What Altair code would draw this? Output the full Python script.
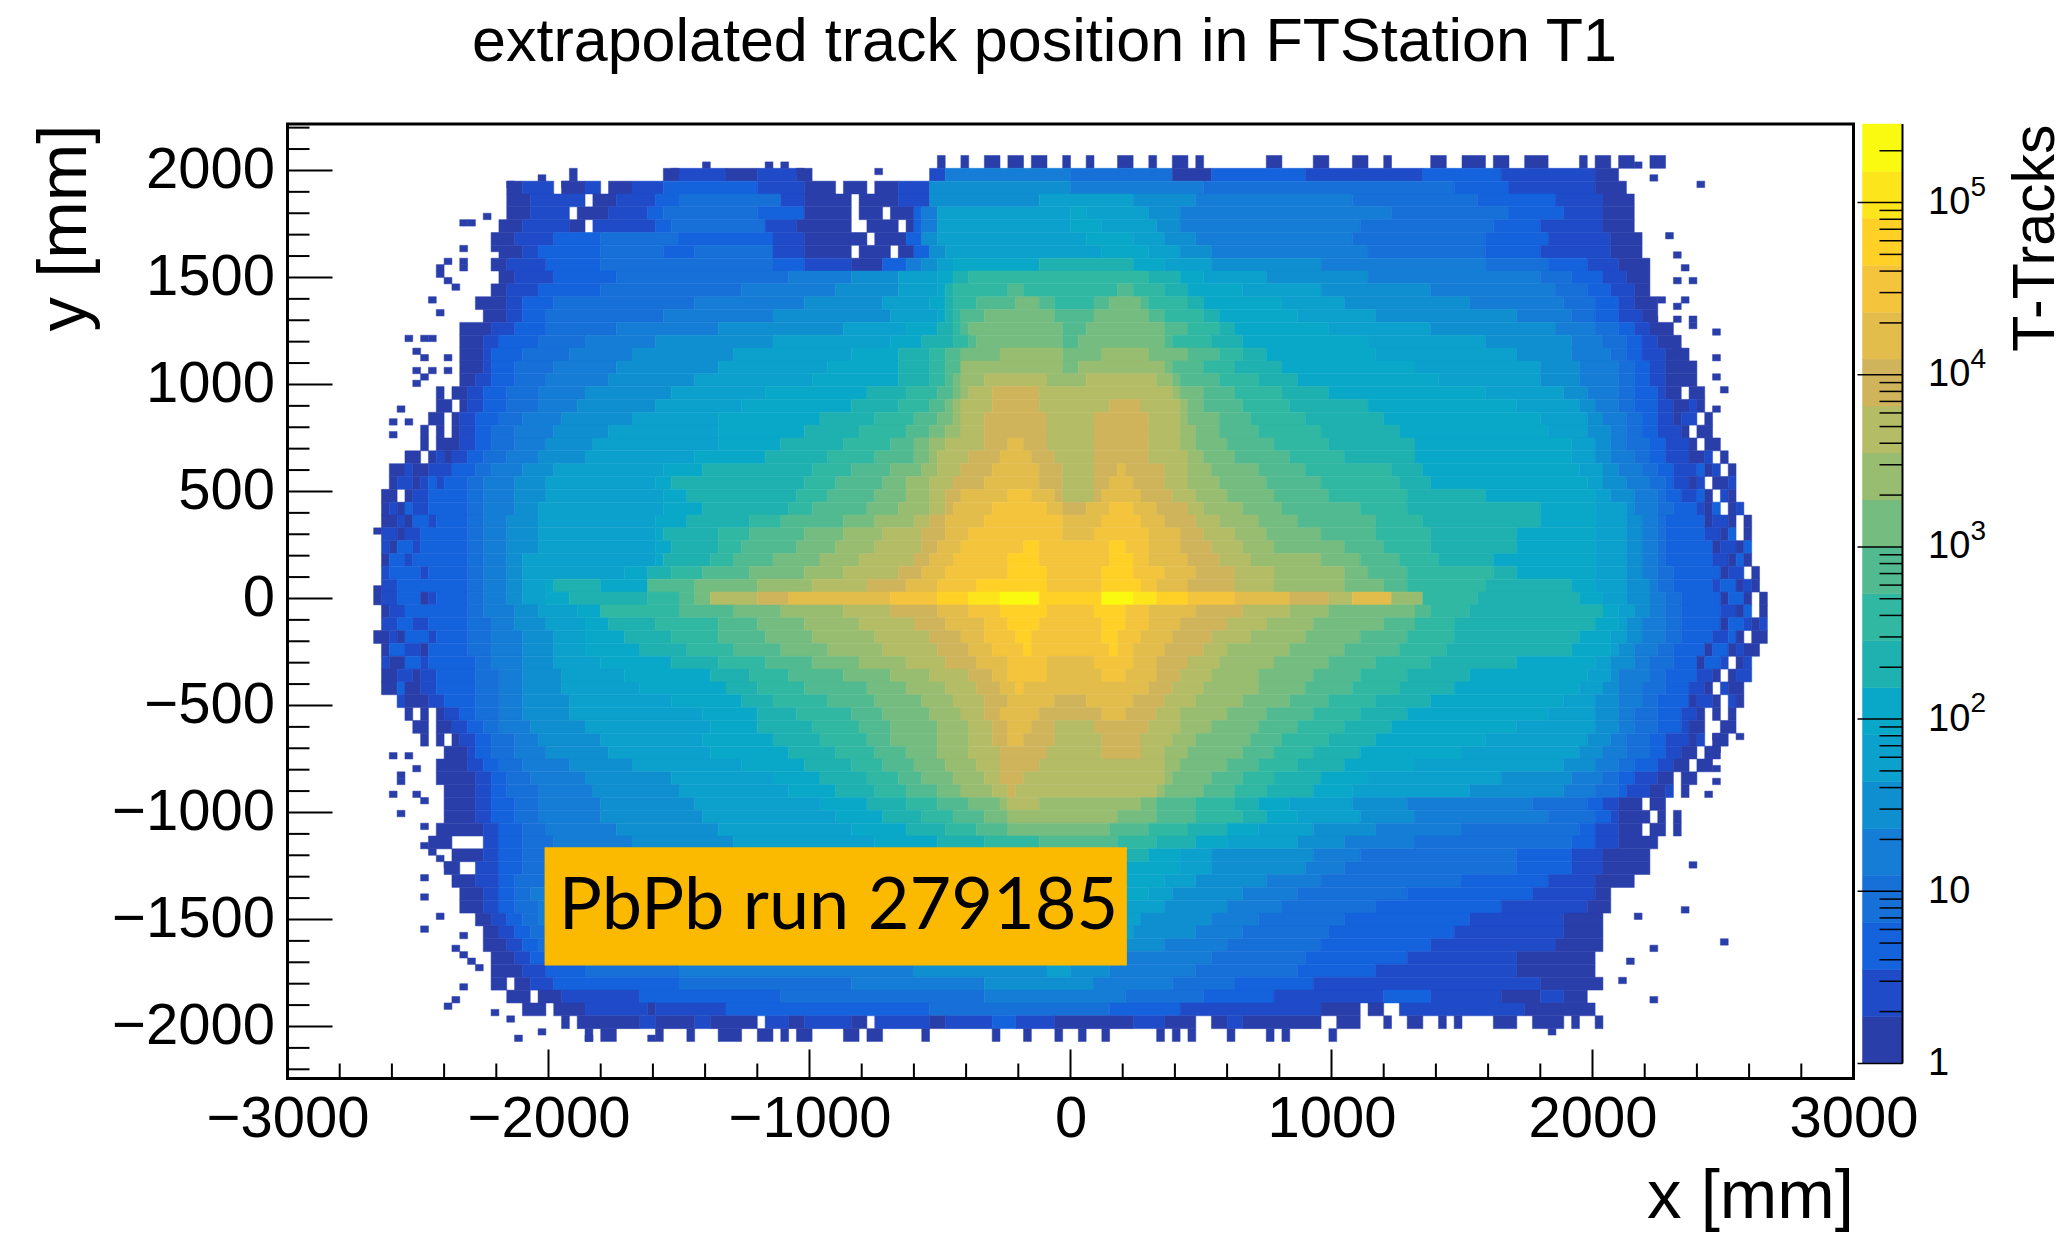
import re
import altair as alt
import pandas as pd

TITLE = "extrapolated track position in FTStation T1"
FONT = "Liberation Sans"
LEVELS = list("abcdefghijklmnopqrst")
COLORS = ["#2a3eaa", "#1f4bc8", "#1462dc", "#176fd8", "#157dd5", "#0f8fd0", "#0ca0cc",
          "#0aa8c8", "#1fb1b0", "#30b8a2", "#52ba90", "#74bc80", "#98bd70", "#b4bc66",
          "#cfb45c", "#e2bd4c", "#f3c43c", "#ffd126", "#fde51c", "#fafa10"]
BAR_EDGES = [1, 1.874, 3.51, 6.58, 12.33, 23.1, 43.3, 81.1, 152, 285, 534, 1000, 1874,
             3512, 6580, 12330, 23100, 43300, 81100, 152000, 286000]
X_MAJOR = [-3000, -2000, -1000, 0, 1000, 2000, 3000]
X_MINOR = [-2800, -2600, -2400, -2200, -1800, -1600, -1400, -1200, -800, -600, -400, -200,
           200, 400, 600, 800, 1200, 1400, 1600, 1800, 2200, 2400, 2600, 2800]
Y_MAJOR = [-2000, -1500, -1000, -500, 0, 500, 1000, 1500, 2000]
Y_MINOR = [-2200, -2100, -1900, -1800, -1700, -1600, -1400, -1300, -1200, -1100, -900, -800,
           -700, -600, -400, -300, -200, -100, 100, 200, 300, 400, 600, 700, 800, 900, 1100,
           1200, 1300, 1400, 1600, 1700, 1800, 1900, 2100, 2200]
BAR_MAJOR = [1, 10, 100, 1000, 10000, 100000]
BAR_EXP = [100, 1000, 10000, 100000]
BAR_EXP_TEXT = ["2", "3", "4", "5"]
BAR_MINOR = [2, 3, 4, 5, 6, 7, 8, 9, 20, 30, 40, 50, 60, 70, 80, 90, 200, 300, 400, 500, 600,
             700, 800, 900, 2000, 3000, 4000, 5000, 6000, 7000, 8000, 9000, 20000, 30000,
             40000, 50000, 60000, 70000, 80000, 90000, 200000]

# y centre of a 60 mm band, then "start-bin + level" runs; bins are 30 mm from x=-3000; '.' = empty
ROWS = [
 (2040, "83a84.86a87.89a91.92a94.95a97.99a100.102a103.106a108.110a111.113a115.116a117.125a127.131a133.136a138.140a141.146a148.150a153.154a156.158a161.165a166.167a169.170a172.174a176."),
 (1980, "36a37.48a50b56a60b65a67.82b84e100d113a118c130b145c155b167a170."),
 (1920, "28a30b34.35a38b40.41a44b48c60b66a70.71a74.75a78b82f100e117d149c156b167a171."),
 (1860, "28a31b38.39a42b47c50d63b66a72.73a78b82f96g108f116e136d152c162b168a172."),
 (1800, "28a31b36.37a41b46c48d60c66a72.73a76.77a80c81e83g100h102g110f114e141d156c163b168a172."),
 (1740, "27a30b36a38.39b47c49d61b65a72.74a78.79a80c81e83g100h104g111f114e137d154c160b168a172."),
 (1680, "26a29b34c40d50c62b66a74.75a79c81f83g102h108g112f116e136d153c161b169a173."),
 (1620, "27a30b32c40d48c52d62b66a72.73a77.78a80c82f84g104h110g114f118e138d153c160b169a173."),
 (1560, "26a28b33c40d62c66b72a76c79e81f83g85h96i108h112g118f132e153d161c166b170a174."),
 (1500, "27a29b34c42d64e72f78g83h85i87j110i114h117g125f138e160d164c168b171a174."),
 (1440, "26a28b32c40d58e70f78g83h84i85j92k94j106k108j112i115h122g132f146e162d166c169b172a174."),
 (1380, "24a28b30c34d52e66f76g82h84i85j88k93l96k98j103k105l109k110j115i117h127g135f151e163d167c170b172a175."),
 (1320, "25a28b30c33d48e62f77g83h84i85j86k89l98k103l110k112j117i119h129g139f157e164d167c170b173a175."),
 (1260, "22a26b29c33d42e55f71g79h83i85j86k87l99k102l112k115j119i121h133g146f162e167d170c172b174a177."),
 (1200, "22a25b27c32d38e47f62g77h81i85j87k88l99k101l112k113j118i122h138g153f164e168d171c173b175a178."),
 (1140, "22a25b26c30d36e44f57g72h78i82j84k86l91m99l104m110l115k119j122i125h139g157f164e169d171c173b176a179."),
 (1080, "22a25b26c29d34e42f55g69h78i82j84k86m99l101m112l113k117j121i127h144g160f165e170d172c174b176a180."),
 (1020, "22a24b26c29d33e41f52g67h78i82j84k85l86m89n97m102n111m113l114k119j124i129h147g160f165e170d172c174b176a180."),
 (960, "19a20.21a23b25c28d32e38f49g61h74i79j83k85l86m87n90o96n113m114l117k121j127i133h153g163f166e170d172c175b176a178.179a181."),
 (900, "19a21.22a23b25c28d32e37f47g58h72i78j82k84l85m86n90o96n105o109n114m115l117k122j128i138h157g165f167e170d172c175b177a179b180a181."),
 (840, "18a20.21a22b24c27d30e35f44g55h68i75j80k83l85m86n89o97n103o110n114m115l119k123j130i140h160g166f168e171d173c175b177a178b180.181a182."),
 (780, "17a18.19a20.21a22b24c26d29e34f41g55h66i73j79k82l84m86n89o97n103o110n114m116l119k124j132i142h161g166f169e171d173c175b178a179.180a182."),
 (720, "17a18.19a22b24c26d29e33f39g55h63i71j77k80l82m84n89o92p94o97n103o110n114m116l120k126j133i144h164g167f169e171d174c176b179a180.181a183."),
 (660, "15a17.18a19b20a21b23c25d28e32f38g52h61i69j75k80l82m83n87o91p95o98n103o110n115m117l121k128j135i144h164g167f169e172d174c176b179a181b182.183a184."),
 (600, "13a15b16a18b21c24d26e30f34g48h53i67j72k77l81m83n86o90p96o99n103o106p107o112n115m118l124k130j141i145h165g168f170e173d175c177b180c181a182b183.184a185."),
 (540, "13a14b16a17b18c19b20c23d25e29f33g47h49i66j70k76l79m82n85o89p96o99n103o105p108o112n115m119l125k132j142i146h166g168f171e174d176c177b179a180b181.182a184b185."),
 (480, "12a14.15a16b18c23d25e29f33g48h51i65j69k75l79m82n84o86p92q95p98o99n103o104p109o113n116m120l126k133j143i153h167g169f172e175d176c178b180c181a182.183b184a185."),
 (420, "12a13b14a15c16b18c23d25e29f32g48h53i64j67k74l78m82n84o85p90q97p99o102p105q108p111o115n117m122l127k137j143i160h167g171f172e175d177c180b181a182c183.184a185b186."),
 (360, "12a14b15a16c18b19c23d25e28f32g47h51i59j63k71l75m80n82o84p89q99p104q109p112o116n119m124l129k139j145i160h167g171f173e175d176c181a182b184a185.186a187."),
 (300, "12b14a15b17c23d25e28f32g47h48i55j59k66l71m76n81o84p87q99p103q110p114o117n121m125l132k139j146i157h167g171f173e175d176c181b183a184c185.186a187."),
 (240, "12b13a14c16b17c23d25e28f32g47h49i55j58k65l70m75n81o83p86q94r96q105r107q110p114o118n122m126l135k140j146i157h167g171f173e175d176c182a183b185a186c187."),
 (180, "12a13c15b16c23d25e28f30g47h48i54j57k62l68m73n80o82p85q92r96q105r108q110p115o119n123m132l137k142j147i154h167g171f173e175d176c182b184a185c186a187."),
 (120, "12b13c17b18c23d25e28f30g43h46i49j53k59l66m71n78o81p84q92r97q104r108q112p116o121n126m135l138k143j154i157h167g171f173e175d177c183a184b186.187a188."),
 (60, "12b14c23d25e28f30g33h34i40h46k52l60m67n74o79p83q88r97q104r109q111p115o121n126m135l140k143j153i164h167g171f174e175d177c182b183c185a186b187a188."),
 (0, "11a12b14c17a18b19c23d25e28f30g33h36i46j50k52l54n60o64p77q83r87s91t96r104t108s111r115q121p128o133n136p141m145j152i165h168g171f174e176d178c183a184c186a187.188a189."),
 (-60, "12a13b15c23d25e29f32g37h40j50k57l63m71n77o83p87q91r97q103r107q110p116o122n128m133l144k146j151i168h170g172f174e176d178c183b185a186c187.188a189."),
 (-120, "12b14c16b18c23d26e29f33g38h41i47j55k60l66m73n80o84p89q92r96q104r107q110p114o120n125m131l140k144j149i167h170g171f173e176d178c183a184c186b187a188b189."),
 (-180, "11a13b14a15c18b19c23d26e30f34g38h43i49j55k61l67m75n82o86p89q93r95q104r106q109p113o118n123m130l137k143j149i165h169g171f173e176d178c182b184c185a186.187a189."),
 (-240, "12a13c15b17a18c23d26e30f34g38h45i51j57k63l69m76n83o87p90q94r95q105r106q108p112o117n120m128l135k142j148i164h169g170f172e175d177c181a182c184a185b186a188."),
 (-300, "12b13a15c17b18c24d26e30f34g40h49i55j61k67l73m79n84o88p92q97p103q108p111o115n119m126l133k139j146i157h167g169f172e174d177c180a181c183b184.185a186b187."),
 (-360, "12a14b16a17b19c24d27e30f35g43h54i59j64k71l77m82n87o90p92q97p104q107p111o114n118m124l131k137j143i151h166g169f170e174d176c180b182a183.184a185b187."),
 (-420, "12a14c15a17b19c24d27e30f35g45h56i60j66k74l79m84n88o91p93q94p110o113n117m124l130k136j142i149h165g168f170e173d176c179b181a182.183b184a186."),
 (-480, "14b15a18b20c24d27e30f36g49h58i62j69k75l81m85n89o92p98o102p108o112n116m122l128k133j139i146h163g167f170e173d175c179a180b182a183.184b185a186."),
 (-540, "15a16.17a18.19a20b22c24d27e30f36g53h60i65j72k76l82m86n89o91p96o104p107o111n114m120l125k131j137i143h161g167f170e172d175c178b180a181.182a183.184a185."),
 (-600, "16a18.19a21b23c25d27e31f38g54h60i67j73k77l83m87n90o92p95o98n103o110n114m118l124k129j135i141h157g167f170e172d175c178b179a181.183a185."),
 (-660, "17a18.19a20.21a22b24c26d29e32f40g53h62i68j74k77l83m87n90o92p94o98n104o109n113m116l123k127j133i139h153g166f169e171d174c176b179a180b181.182a184."),
 (-720, "20a23b24c26d29e33f41g54h64i70j75k79l83m87n91o97n104o109n112m115l122k126j131i137h150g165f168e171d174c176b178a180.181a183."),
 (-780, "19a23b25c27d30e36f44g58h66i72j76k80l84m88n91o96n112m114l120k124j129i135h144g163f167e170d172c175b177a179.180a182."),
 (-840, "19a24b26c28d31e38f49g62h68i74j78k81l85m89n91o94n112m113l118k122j126i132h138g155f164e168d170c172b175a177.178a180."),
 (-900, "20a24b26c28d32e39f50g64h70i75j79k83l86m90n92o93n111m112l117k121j125i131h136g151f163e167d170c171b174a176b177.178a179."),
 (-960, "20a24b26c29d32e40f52g68h74i79j83k87l91m92n96m109l111k116j121i124h128g136f143e159d166c168b170a173.174a176."),
 (-1020, "20a24b26c29d32e40f53g70h76i81j85k89l92m106l111k116j122i125h129g137f144e161d167c169b170a174.175a176.177a178."),
 (-1080, "19a25b27c30d33e42f55g72h79i84j88k92l105k110j115i120h124g131f139e150d165c167b170a173.174a176.177a178."),
 (-1140, "18a21.25b27c30d34e44f57g75h83i89j96k106j111i116h120g129f135e144d164c167b170a175."),
 (-1200, "21a25b27c30d33e40g70h107i110h114g118f131e137d157c164b168a174."),
 (-1260, "20a22.24b27c30d33e40g70h114g118f130e135d157c164b168a174."),
 (-1320, "21a24b27c29d33e40g70h112g116f125e132d150c161b167a172."),
 (-1380, "22a25b27c29d31e40g70h110g113f122e129d143c159b167a169."),
 (-1440, "22a25b27c29d32e40f70g112f120e127d139c155b166a169."),
 (-1500, "24a26b28c30d32e40f70g109f118e124d135c151b163a168."),
 (-1560, "25a27b29c31d33e40f70g108f116e122d133c149b163a168."),
 (-1620, "25a28b30c32d34e45f112e120d132c146b162a168."),
 (-1680, "26a29b31c33d36e118d130c143b157a167."),
 (-1740, "26a30b33c38d50e80f97g100f105e116d129c139b157a167."),
 (-1800, "26a28.29a31b34c50d72e89f103e113d121c131b160a168."),
 (-1860, "28a31.32a35b45c63d89e107d117c126b140c146b155a160b163a166."),
 (-1920, "30a33.34a38b46a47b56c82d105c114b132a137.138a140.142b158a167."),
 (-1980, "35a36.37a45b47a52b54a60.61b64a66b72a74.75b82a84b90c93b98a108b112a116.118a120b122a132.134a137.140a141.143a145.147a148.149a150.154a157.159a163.164a165.167a168."),
 (-2040, "38a39.40a42.47a48.51a52.55a58.60a62.63a64.65a67.71a73.74a76.81a82.90a91.94a95.98a99.101a102.104a105.111a112.113a114.115a116.120a121.125a126.127a128.133a134."),
]

# isolated single-count bins around the edge of the acceptance, in mm
OUT_X = [-1398, -1158, -1098, -1517, -1039, -739, -2030, -2147, -1936, -2236, -2330, -2295, -2330, -2210,
         -2390, -2330, -2330, -2419, -2419, -2390, -2360, -2449, -2419, -2538, -2475, -2449, -2509, -2475,
         -2386, -2509, -2449, -2386, -2475, -2509, -2569, -2595, -2538, -2595, -2658, -2658,
         2176, 2235, 2411, 2293, 2324, 2352, 2324, 2382, 2258, 2352, 2324, 2230, 2324, 2382, 2382, 2469,
         2324, 2469, 2469, 2504, 2469,
         -2596, -2537, -2566, -2566, -2508, -2596, -2508, -2566, -2478, -2478, -2478, -2449, -2420, -2390,
         -2478, -2478, -2420, -2478, -2326, -2357, -2326, -2297, -2267, -2326, -2357, -2387, -2205, -2146,
         -2117, -2029, -1849, -1608,
         2382, 2351, 2171, 2503, 2230, 2152, 2113, 2230, 2445, 2474, 2474, 2562, 2474, 2470, 1843]
OUT_Y = [2023, 2023, 2023, 1992, 1992, 1992, 1961, 1934, 1934, 1781, 1750, 1750, 1633, 1633,
         1576, 1576, 1540, 1548, 1517, 1485, 1454, 1392, 1337, 1213, 1213, 1213, 1155, 1124,
         1124, 1065, 1065, 1065, 1034, 1002, 886, 826, 826, 769, 317, 44,
         2023, 1961, 1934, 1693, 1602, 1545, 1485, 1485, 1395, 1395, 1361, 1302, 1302, 1302, 1270, 1244,
         1155, 1127, 1034, 974, 886,
         -733, -733, -827, -858, -804, -910, -910, -1001, -944, -1068, -1154, -1178, -1209, -1240,
         -1299, -1388, -1481, -1541, -1567, -1629, -1660, -1692, -1723, -1808, -1871, -1897, -1928, -1957,
         -2047, -2019, -2047, -2047,
         -1240, -1450, -1481, -1598, -1629, -1688, -1777, -1871, -910, -788, -850, -640, -702, -640, -2019]

segments = []
for yc, row in ROWS:
    runs = re.findall(r"(\d+)([a-t.])", row)
    for k, (start, lev) in enumerate(runs):
        if lev == "." or k + 1 == len(runs):
            continue
        segments.append(dict(x=-3000 + 30 * int(start), x2=-3000 + 30 * int(runs[k + 1][0]),
                             y=yc - 30, y2=yc + 30, level=lev))
for ox, oy in zip(OUT_X, OUT_Y):
    bx, by = (ox // 30) * 30, (oy // 30) * 30
    segments.append(dict(x=bx, x2=bx + 30, y=by, y2=by + 30, level="a"))
cells = pd.DataFrame(segments)

xs = alt.Scale(domain=[-3000, 3000], nice=False, zero=False)
ys = alt.Scale(domain=[-2243, 2217], nice=False, zero=False)
lv = alt.Scale(domain=LEVELS, range=COLORS)

heat = alt.Chart(cells).mark_rect(strokeWidth=0.5).encode(
    x=alt.X("x:Q", scale=xs, axis=alt.Axis(
        values=X_MAJOR, format="d", tickSize=0, domain=False, grid=False,
        labelFontSize=58, labelFont=FONT, labelColor="black", labelPadding=12, labelFlush=False,
        title="x [mm]", titleFontSize=69, titleFont=FONT, titleFontWeight="normal", titleColor="black",
        titleAnchor="end", titlePadding=14)),
    x2="x2:Q",
    y=alt.Y("y:Q", scale=ys, axis=alt.Axis(
        values=Y_MAJOR, format="d", tickSize=0, domain=False, grid=False,
        labelFontSize=58, labelFont=FONT, labelColor="black", labelPadding=13,
        title="y [mm]", titleFontSize=69, titleFont=FONT, titleFontWeight="normal", titleColor="black",
        titleAnchor="end", titlePadding=12)),
    y2="y2:Q",
    color=alt.Color("level:N", scale=lv, legend=None),
    stroke=alt.Stroke("level:N", scale=lv, legend=None),
)

def xticks(vals, length):
    return alt.Chart(pd.DataFrame({"v": vals})).mark_rule(color="black", strokeWidth=2).encode(
        x=alt.X("v:Q", scale=xs), y=alt.value(954.5), y2=alt.value(954.5 - length))

def yticks(vals, length):
    return alt.Chart(pd.DataFrame({"v": vals})).mark_rule(color="black", strokeWidth=2).encode(
        y=alt.Y("v:Q", scale=ys), x=alt.value(0), x2=alt.value(length))

box = alt.Chart(pd.DataFrame({"x": [-2015], "x2": [216], "y": [-1715], "y2": [-1162]})).mark_rect(
    color="#fbb900").encode(x=alt.X("x:Q", scale=xs), x2="x2:Q", y=alt.Y("y:Q", scale=ys), y2="y2:Q")
box_text = alt.Chart(pd.DataFrame({"x": [-1961], "y": [-1440], "t": ["PbPb run 279185"]})).mark_text(
    align="left", baseline="middle", font="Lato", fontSize=72, color="black").encode(
    x=alt.X("x:Q", scale=xs), y=alt.Y("y:Q", scale=ys), text="t:N")

main = alt.layer(heat, xticks(X_MAJOR, 29), xticks(X_MINOR, 15), yticks(Y_MAJOR, 45), yticks(Y_MINOR, 22),
                 box, box_text).properties(
    width=1566, height=954.5,
    view=alt.ViewConfig(stroke="black", strokeWidth=3),
    title=alt.Title(TITLE, font=FONT, fontSize=61, fontWeight="normal", color="black",
                    anchor="middle", dx=-26, offset=50),
)

bar_df = pd.DataFrame({"lo": BAR_EDGES[:-1], "hi": BAR_EDGES[1:], "level": LEVELS})
bs = alt.Scale(type="log", domain=[1, 286000], nice=False)
bar_rect = alt.Chart(bar_df).mark_rect(strokeWidth=0.5).encode(
    x=alt.value(0), x2=alt.value(40),
    y=alt.Y("lo:Q", scale=bs, axis=alt.Axis(
        orient="right", values=BAR_MAJOR, tickSize=0, domain=False, grid=False,
        labelFontSize=38, labelFont=FONT, labelColor="black", labelPadding=25,
        labelExpr="datum.value<=10 ? datum.label : '10'",
        title="T-Tracks", titleFontSize=59, titleFont=FONT, titleFontWeight="normal", titleColor="black",
        titleAngle=270, titleAnchor="end", titleAlign="right", titlePadding=96)),
    y2="hi:Q",
    color=alt.Color("level:N", scale=lv, legend=None),
    stroke=alt.Stroke("level:N", scale=lv, legend=None),
)
bar_major = alt.Chart(pd.DataFrame({"v": BAR_MAJOR})).mark_rule(color="black", strokeWidth=1.5).encode(
    y=alt.Y("v:Q", scale=bs), x=alt.value(-5), x2=alt.value(40))
bar_minor = alt.Chart(pd.DataFrame({"v": BAR_MINOR})).mark_rule(color="black", strokeWidth=1.5).encode(
    y=alt.Y("v:Q", scale=bs), x=alt.value(17), x2=alt.value(40))
bar_side = alt.Chart(pd.DataFrame({"v": [1]})).mark_rule(color="black", strokeWidth=2).encode(
    x=alt.value(40), y=alt.value(0), y2=alt.value(939.4))
bar_exp = alt.Chart(pd.DataFrame({"v": BAR_EXP, "t": BAR_EXP_TEXT})).mark_text(
    align="left", baseline="middle", font=FONT, fontSize=28, dy=-15, color="black").encode(
    y=alt.Y("v:Q", scale=bs), x=alt.value(108), text="t:N")
bar = alt.layer(bar_rect, bar_major, bar_minor, bar_side, bar_exp).properties(width=40, height=939.4)

chart = alt.hconcat(main, bar, spacing=9, bounds="flush").resolve_scale(
    color="independent", stroke="independent", y="independent").properties(
    padding={"left": 20.5, "top": 2, "right": -11, "bottom": 0},
    background="white",
).configure_view(stroke=None)

chart.save("out.html", embed_options={"renderer": "svg", "actions": False})
